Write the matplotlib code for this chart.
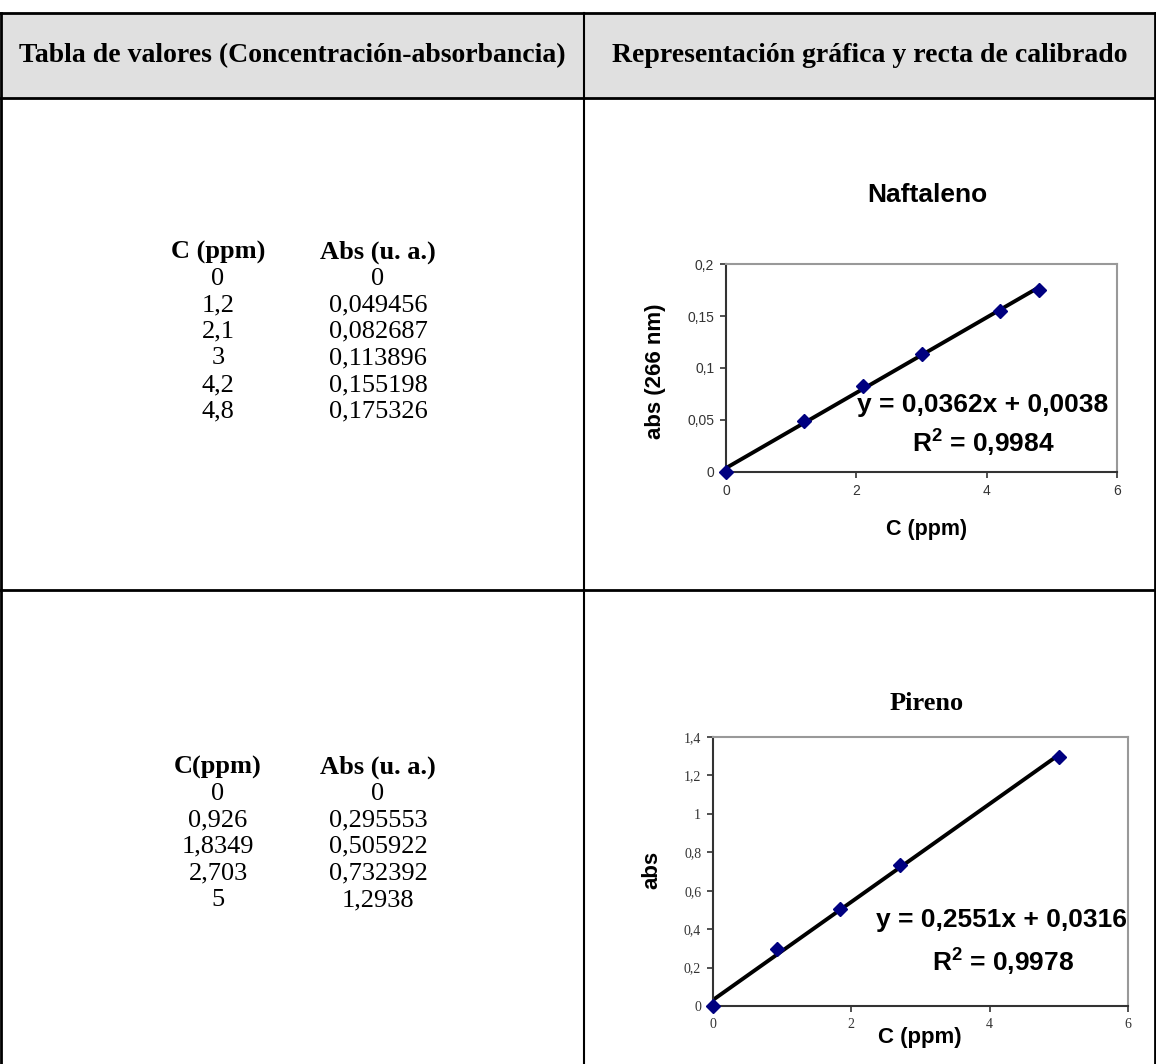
import matplotlib
matplotlib.use("Agg")
import matplotlib.pyplot as plt
import numpy as np
from matplotlib.lines import Line2D
from matplotlib.patches import Rectangle

W, H = 1156, 1064

# data
naf_c = [0, 1.2, 2.1, 3, 4.2, 4.8]
naf_abs = [0, 0.049456, 0.082687, 0.113896, 0.155198, 0.175326]
naf_c_txt = ["0", "1,2", "2,1", "3", "4,2", "4,8"]
naf_abs_txt = ["0", "0,049456", "0,082687", "0,113896", "0,155198", "0,175326"]

pir_c = [0, 0.926, 1.8349, 2.703, 5]
pir_abs = [0, 0.295553, 0.505922, 0.732392, 1.2938]
pir_c_txt = ["0", "0,926", "1,8349", "2,703", "5"]
pir_abs_txt = ["0", "0,295553", "0,505922", "0,732392", "1,2938"]

header_left = "Tabla de valores (Concentración-absorbancia)"
header_right = "Representación gráfica y recta de calibrado"

SERIF = "Liberation Serif"
SANS = "Liberation Sans"

plt.rcParams["mathtext.fontset"] = "custom"
plt.rcParams["mathtext.rm"] = "Liberation Sans:bold"
plt.rcParams["mathtext.it"] = "Liberation Sans:bold"
plt.rcParams["mathtext.bf"] = "Liberation Sans:bold"

fig = plt.figure(figsize=(W / 100, H / 100), dpi=100)


def fx(x):
    return x / W


def fy(y):
    return 1 - y / H


def hline(x0, x1, y, lw=2):
    fig.add_artist(Line2D([fx(x0), fx(x1)], [fy(y), fy(y)], color="black", lw=lw))


def vline(x, y0, y1, lw=2):
    fig.add_artist(Line2D([fx(x), fx(x)], [fy(y0), fy(y1)], color="black", lw=lw))


# table frame
fig.add_artist(Rectangle((fx(1), fy(98)), fx(1155) - fx(1), fy(13) - fy(98),
                         facecolor="#e0e0e0", edgecolor="none"))
hline(0, 1156, 13)
hline(0, 1156, 98)
hline(0, 1156, 590)
vline(1, 13, 1064)
vline(584, 13, 1064, lw=1.5)
vline(1155, 13, 1064)

fig.text(fx(292), fy(56), header_left, family=SERIF, weight="bold", size=20,
         ha="center", va="center")
fig.text(fx(870), fy(56), header_right, family=SERIF, weight="bold", size=20,
         ha="center", va="center")


def value_table(y0, c_head, c_txt, a_txt):
    fig.text(fx(218), fy(y0), c_head, family=SERIF, weight="bold", size=19,
             ha="center", va="center")
    fig.text(fx(378), fy(y0), "Abs (u. a.)", family=SERIF, weight="bold", size=19,
             ha="center", va="center")
    for i, (c, a) in enumerate(zip(c_txt, a_txt)):
        y = y0 + 26.6 * (i + 1)
        fig.text(fx(218), fy(y), c, family=SERIF, size=19, ha="center", va="center")
        fig.text(fx(378), fy(y), a, family=SERIF, size=19, ha="center", va="center")


value_table(252, "C (ppm)", naf_c_txt, naf_abs_txt)
value_table(767, "C(ppm)", pir_c_txt, pir_abs_txt)


def calib(box, xs, ys, ymax, ystep, tick_font):
    l, t, r, b = box
    ax = fig.add_axes([fx(l), fy(b), fx(r) - fx(l), fy(t) - fy(b)])
    m, q = np.polyfit(xs, ys, 1)
    xf = np.array([0, max(xs)])
    ax.plot(xf, m * xf + q, color="black", lw=2.8, zorder=2)
    ax.plot(xs, ys, "D", color="#000080", ms=7, zorder=3, clip_on=False)
    ax.set_xlim(0, 6)
    ax.set_ylim(0, ymax)
    ax.set_xticks([0, 2, 4, 6])
    ax.set_xticklabels(["0", "2", "4", "6"])
    yt = np.arange(0, ymax + ystep / 2, ystep)
    ax.set_yticks(yt)
    ax.set_yticklabels([("%g" % v).replace(".", ",") for v in yt])
    for lab in ax.get_xticklabels() + ax.get_yticklabels():
        lab.set_family(tick_font)
        lab.set_fontsize(10)
        lab.set_color("#333333")
    ax.tick_params(direction="out", length=4, width=1.2, pad=4.5, color="#333333")
    ax.spines["left"].set_color("#333333")
    ax.spines["bottom"].set_color("#333333")
    ax.spines["top"].set_color("#999999")
    ax.spines["right"].set_color("#999999")
    for s in ax.spines.values():
        s.set_linewidth(1.5)
    return ax


# Naftaleno
ax1 = calib((726, 264, 1117, 472), naf_c, naf_abs, 0.2, 0.05, SANS)
fig.text(fx(927), fy(195), "Naftaleno", family=SANS, weight="bold", size=19,
         ha="center", va="center")
fig.text(fx(656), fy(371), "abs (266 nm)", family=SANS, weight="bold", size=16,
         ha="center", va="center", rotation=90)
fig.text(fx(927), fy(530), "C (ppm)", family=SANS, weight="bold", size=15.5,
         ha="center", va="center")
fig.text(fx(983), fy(405), "y = 0,0362x + 0,0038", family=SANS, weight="bold",
         size=19, ha="center", va="center")
fig.text(fx(983), fy(443), "R$^2$ = 0,9984", family=SANS, weight="bold",
         size=19, ha="center", va="center")

# Pireno
ax2 = calib((713, 737, 1128, 1006), pir_c, pir_abs, 1.4, 0.2, SERIF)
fig.text(fx(927), fy(703), "Pireno", family=SERIF, weight="bold", size=19,
         ha="center", va="center")
fig.text(fx(652), fy(870), "abs", family=SANS, weight="bold", size=16,
         ha="center", va="center", rotation=90)
fig.text(fx(920), fy(1038), "C (ppm)", family=SANS, weight="bold", size=16,
         ha="center", va="center")
fig.text(fx(1002), fy(920), "y = 0,2551x + 0,0316", family=SANS, weight="bold",
         size=19, ha="center", va="center")
fig.text(fx(1003), fy(962), "R$^2$ = 0,9978", family=SANS, weight="bold",
         size=19, ha="center", va="center")

fig.savefig("out.png", dpi=100, facecolor="white")
